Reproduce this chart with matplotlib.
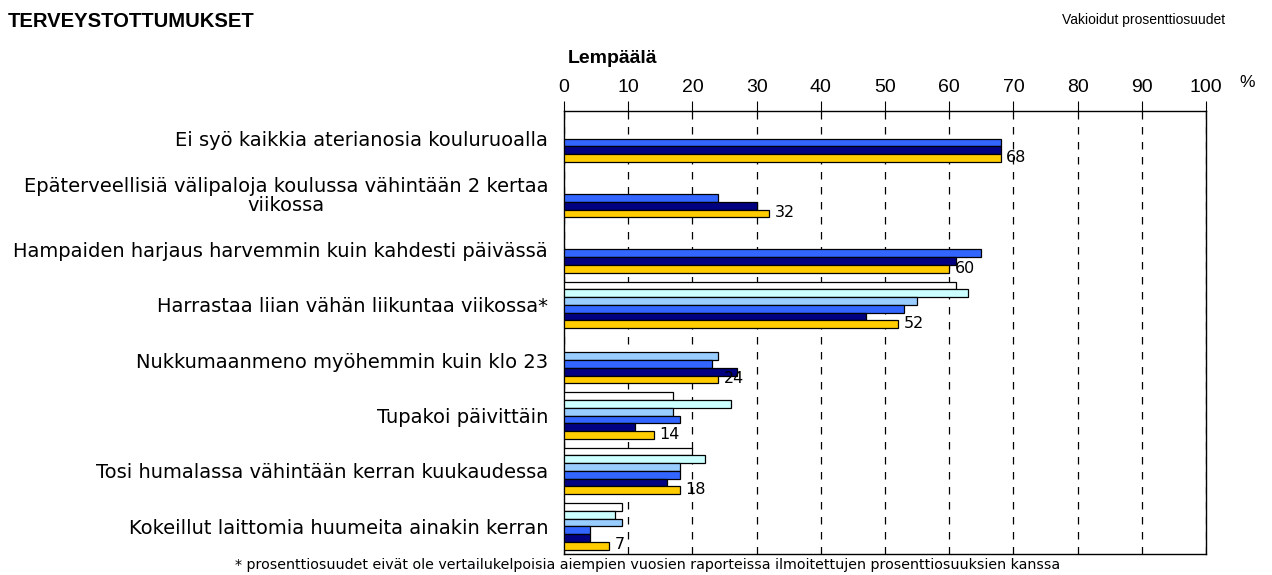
import matplotlib.pyplot as plt
import numpy as np

plt.rcParams['font.family'] = ['Liberation Sans', 'DejaVu Sans']

categories = ['Ei syö kaikkia aterianosia kouluruoalla',
              'Epäterveellisiä välipaloja koulussa vähintään 2 kertaa\nviikossa',
              'Hampaiden harjaus harvemmin kuin kahdesti päivässä',
              'Harrastaa liian vähän liikuntaa viikossa*',
              'Nukkumaanmeno myöhemmin kuin klo 23',
              'Tupakoi päivittäin',
              'Tosi humalassa vähintään kerran kuukaudessa',
              'Kokeillut laittomia huumeita ainakin kerran']

# six survey rounds, oldest first; nan = not asked that year
s1 = [np.nan, np.nan, np.nan, 61, np.nan, 17, 20, 9]
s2 = [np.nan, np.nan, np.nan, 63, np.nan, 26, 22, 8]
s3 = [np.nan, np.nan, np.nan, 55, 24, 17, 18, 9]
s4 = [68, 24, 65, 53, 23, 18, 18, 4]
s5 = [68, 30, 61, 47, 27, 11, 16, 4]
s6 = [68, 32, 60, 52, 24, 14, 18, 7]

series = [s1, s2, s3, s4, s5, s6]
colors = ['#FFFFFF', '#CCFFFF', '#99CCFF', '#3366FF', '#000080', '#FFCC00']

fig = plt.figure(figsize=(12.72, 5.75), dpi=100)
ax = fig.add_axes([0.4434, 0.0365, 0.5047, 0.7705])

ind = np.arange(len(categories))
h = 0.14
for i, (vals, c) in enumerate(zip(series, colors)):
    ax.barh(ind + (i - 2.5) * h, vals, h, color=c, edgecolor='black',
            linewidth=0.9, zorder=3)

# value labels next to the latest bar
for i, v in enumerate(s6):
    ax.text(v + 0.9, i + 2.4 * h, str(v), va='center', ha='left',
            fontsize=11.5, family='DejaVu Sans', zorder=4)

ax.set_xlim(0, 100)
ax.set_ylim(7.5, -0.5)
ax.set_xticks(np.arange(0, 101, 10))
ax.xaxis.tick_top()
ax.tick_params(axis='x', direction='out', length=7, width=0.8,
               labelsize=14, pad=4)
ax.set_yticks(ind)
ax.set_yticklabels(categories, fontsize=14, family='DejaVu Sans',
                   multialignment='center', linespacing=1.0)
ax.tick_params(axis='y', length=0, pad=11.5)
ax.xaxis.grid(True, color='black', linestyle=(0, (6, 6)), linewidth=0.9,
              zorder=1)
for sp in ax.spines.values():
    sp.set_linewidth(1.0)

fig.text(0.006, 0.963, 'TERVEYSTOTTUMUKSET', fontsize=14.6, fontweight='bold',
         va='center')
fig.text(0.835, 0.965, 'Vakioidut prosenttiosuudet', fontsize=10,
         va='center')
fig.text(0.446, 0.899, 'Lempäälä', fontsize=14, fontweight='bold',
         va='center')
fig.text(0.974, 0.857, '%', fontsize=12.5, va='center')
fig.text(0.509, 0.017,
         '* prosenttiosuudet eivät ole vertailukelpoisia aiempien vuosien '
         'raporteissa ilmoitettujen prosenttiosuuksien kanssa',
         fontsize=10.3, family='DejaVu Sans', ha='center', va='center')

plt.savefig('out.png', dpi=100)
